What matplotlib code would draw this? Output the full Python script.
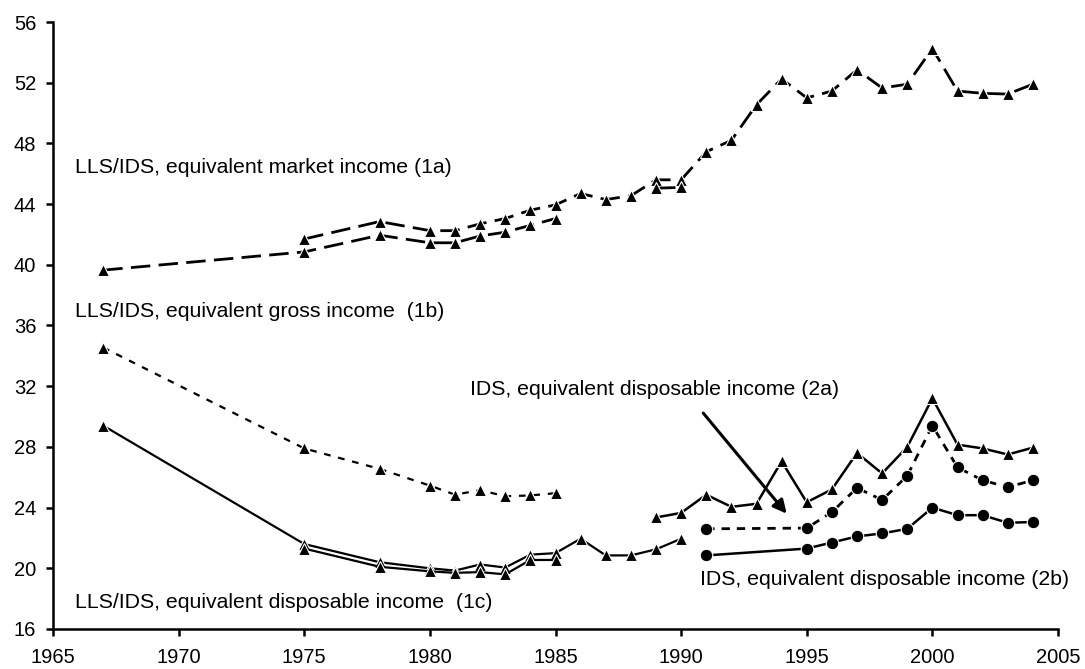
import numpy as np
import matplotlib
matplotlib.use("Agg")
import matplotlib.pyplot as plt

plt.rcParams['font.family'] = ['Liberation Sans', 'DejaVu Sans']

nan = np.nan

# market income (1a), two overlapping sources
mkt_years = [1967, 1975, 1978, 1980, 1981, 1982, 1983, 1984, 1985, 1986, 1987, 1988, 1989, 1990,
             1991, 1992, 1993, 1994, 1995, 1996, 1997, 1998, 1999, 2000, 2001, 2002, 2003, 2004]
mkt_upper = [nan, 41.7, 42.85, 42.25, 42.25, 42.7, 43.05, 43.6, 43.95, 44.7, 44.3, 44.55, 45.6, 45.6,
             47.45, 48.2, 50.55, 52.25, 51.0, 51.45, 52.85, 51.65, 51.9, 54.25, 51.45, 51.3, 51.25, 51.9]
mkt_lower = [39.65, 40.85, 41.95, 41.45, 41.45, 41.9, 42.15, 42.6, 43.05, nan, nan, nan, 45.05, 45.1,
             nan, nan, nan, nan, nan, nan, nan, nan, nan, nan, nan, nan, nan, nan]

# gross income (1b)
gross_years = [1967, 1975, 1978, 1980, 1981, 1982, 1983, 1984, 1985]
gross_vals = [34.55, 27.9, 26.55, 25.45, 24.85, 25.15, 24.75, 24.8, 24.95]

# disposable income (1c)
disp_years = [1967, 1975, 1978, 1980, 1981, 1982, 1983, 1984, 1985, 1986, 1987, 1988, 1989, 1990]
disp_upper = [29.4, 21.6, 20.4, 20.0, 19.85, 20.25, 20.05, 20.9, 21.0, 21.95, 20.85, 20.85, 21.25, 21.95]
disp_lower = [nan, 21.3, 20.1, 19.8, 19.7, 19.75, 19.6, 20.55, 20.55, nan, nan, nan, nan, nan]

# IDS disposable income, triangles
ids_years = [1989, 1990, 1991, 1992, 1993, 1994, 1995, 1996, 1997, 1998, 1999, 2000, 2001, 2002, 2003, 2004]
ids_vals = [23.35, 23.65, 24.85, 24.05, 24.25, 27.05, 24.35, 25.2, 27.6, 26.25, 28.0, 31.2, 28.15, 27.9, 27.5, 27.95]

# IDS equivalent disposable income (2a) and (2b)
eq_years = [1991, 1995, 1996, 1997, 1998, 1999, 2000, 2001, 2002, 2003, 2004]
eq_2a = [22.6, 22.65, 23.7, 25.3, 24.5, 26.1, 29.4, 26.65, 25.8, 25.35, 25.8]
eq_2b = [20.85, 21.3, 21.7, 22.1, 22.3, 22.6, 24.0, 23.5, 23.5, 23.0, 23.05]

fig = plt.figure(figsize=(10.85, 6.69), dpi=100)
ax = fig.add_axes([53 / 1085, 40 / 669, 1005 / 1085, 607 / 669])

tri = dict(marker='^', ms=8, mfc='black', mec='white', mew=0.8, color='black')
dot = dict(marker='o', ms=9, mfc='black', mec='white', mew=0.8, color='black')

ax.plot(mkt_years, mkt_upper, lw=2.0, dashes=(7, 3), **tri)
ax.plot(mkt_years, mkt_lower, lw=2.0, dashes=(7, 3), **tri)
ax.plot(gross_years, gross_vals, lw=1.6, dashes=(3, 3.5), **tri)
ax.plot(disp_years, disp_upper, lw=1.6, **tri)
ax.plot(disp_years, disp_lower, lw=1.6, **tri)
ax.plot(ids_years, ids_vals, lw=1.8, **tri)
ax.plot(eq_years, eq_2a, lw=2.0, dashes=(3, 2.5), **dot)
ax.plot(eq_years, eq_2b, lw=1.8, **dot)

fs = 15.3
ax.text(1965.88, 46.38, 'LLS/IDS, equivalent market income (1a)', fontsize=fs, va='center')
ax.text(1965.88, 36.92, 'LLS/IDS, equivalent gross income  (1b)', fontsize=fs, va='center')
ax.text(1965.88, 17.75, 'LLS/IDS, equivalent disposable income  (1c)', fontsize=fs, va='center')
ax.text(1981.6, 31.81, 'IDS, equivalent disposable income (2a)', fontsize=fs, va='center')
ax.text(1990.75, 19.25, 'IDS, equivalent disposable income (2b)', fontsize=fs, va='center')

ax.annotate('', xy=(1994.2, 23.6), xytext=(1990.88, 30.23),
            arrowprops=dict(arrowstyle='-|>', color='black', lw=2.2, mutation_scale=20,
                            shrinkA=0, shrinkB=0))

ax.set_xlim(1965, 2005)
ax.set_ylim(16, 56)
ax.set_xticks(range(1965, 2006, 5))
ax.set_yticks(range(16, 57, 4))
ax.tick_params(labelsize=14.5, width=1.8, length=5, direction='out')
ax.tick_params(axis='y', pad=7)
ax.tick_params(axis='x', pad=9)

for s in ['top', 'right']:
    ax.spines[s].set_visible(False)
for s in ['left', 'bottom']:
    ax.spines[s].set_linewidth(1.8)

plt.savefig('out.png', dpi=100)
